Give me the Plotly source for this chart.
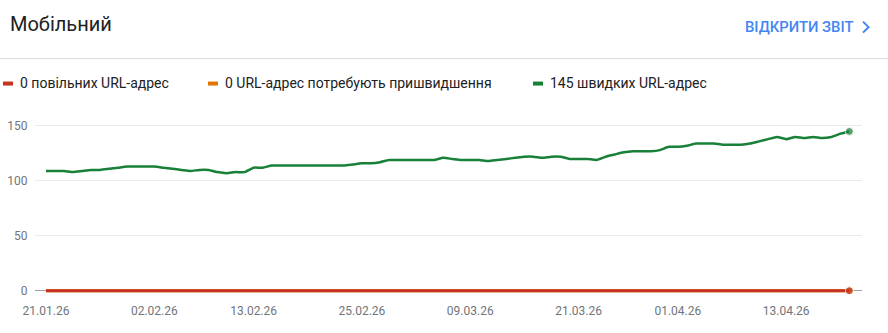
import datetime as dt
import plotly.graph_objects as go

# ---- data ----
start_date = "2026-01-21"
fast_urls = [109, 109, 109, 108, 109, 110, 110, 111, 112, 113,
             113, 113, 113, 112, 111, 110, 109, 110, 110, 108,
             107, 108, 108, 112, 112, 114, 114, 114, 114, 114,
             114, 114, 114, 114, 115, 116, 116, 117, 119, 119,
             119, 119, 119, 119, 121, 120, 119, 119, 119, 118,
             119, 120, 121, 122, 122, 121, 122, 122, 120, 120,
             120, 119, 122, 124, 126, 127, 127, 127, 128, 131,
             131, 132, 134, 134, 134, 133, 133, 133, 134, 136,
             138, 140, 138, 140, 139, 140, 139, 140, 143, 145]
slow_urls = [0] * len(fast_urls)
improve_urls = [0] * len(fast_urls)
tick_dates = ["2026-01-21", "2026-02-02", "2026-02-13", "2026-02-25",
              "2026-03-09", "2026-03-21", "2026-04-01", "2026-04-13"]
y_ticks = [0, 50, 100, 150]

title_text = "Мобільний"
link_text = "ВІДКРИТИ ЗВІТ"
legend_labels = ["повільних URL-адрес", "URL-адрес потребують пришвидшення", "швидких URL-адрес"]

RED = "#c5321f"
ORANGE = "#e37400"
GREEN = "#188038"
BLUE = "#4285f4"

d0 = dt.datetime.fromisoformat(start_date)
dates = [d0 + dt.timedelta(days=i) for i in range(len(fast_urls))]

# plot area geometry (pixels)
W, H = 888, 333
L, R = 35, 862
T, B = 115, 294.3
PW, PH = R - L, B - T


def px(x):
    return (x - L) / PW


def py(y):
    return (B - y) / PH


def end_sizes(n, s):
    return [0] * (n - 1) + [s]


fig = go.Figure()
n = len(fast_urls)
fig.add_trace(go.Scatter(x=dates, y=improve_urls, mode="lines+markers",
                         line=dict(color=ORANGE, width=3),
                         marker=dict(size=end_sizes(n, 8), color=ORANGE),
                         hoverinfo="skip", showlegend=False))
fig.add_trace(go.Scatter(x=dates, y=slow_urls, mode="lines+markers",
                         line=dict(color=RED, width=3),
                         marker=dict(size=end_sizes(n, 8), color=RED),
                         hoverinfo="skip", showlegend=False))
fig.add_trace(go.Scatter(x=dates, y=fast_urls, mode="lines+markers",
                         line=dict(color=GREEN, width=2.5, shape="spline", smoothing=0.5),
                         marker=dict(size=end_sizes(n, 8), color=GREEN),
                         hoverinfo="skip", showlegend=False))

x0 = d0 - dt.timedelta(days=1.22)
x1 = d0 + dt.timedelta(days=90.4)

tick_dt = [dt.datetime.fromisoformat(t) for t in tick_dates]
fig.update_xaxes(type="date", range=[x0, x1], tickvals=tick_dt,
                 ticktext=[t.strftime("%d.%m.%y") for t in tick_dt],
                 showgrid=False, zeroline=False, showline=False, automargin=False,
                 ticks="outside", ticklen=6, tickcolor="rgba(0,0,0,0)",
                 tickfont=dict(family="Roboto", size=12, color="#70757a"))
fig.update_yaxes(range=[-3, 160], tickvals=y_ticks, showgrid=True,
                 gridcolor="#e8eaed", gridwidth=1, automargin=False,
                 zeroline=True, zerolinecolor="#9aa0a6", zerolinewidth=1,
                 showline=False, ticks="outside", ticklen=4,
                 tickcolor="rgba(0,0,0,0)",
                 tickfont=dict(family="Roboto", size=12, color="#70757a"))

annotations = [
    dict(text=title_text, x=px(8), y=py(24), xanchor="left", yanchor="middle",
         font=dict(family="Roboto", size=20, color="#202124")),
    dict(text=link_text, x=px(855), y=py(27), xanchor="right", yanchor="middle",
         font=dict(family="Roboto", size=14.8, color=BLUE, weight=500)),
]
legend_vals = [slow_urls[-1], improve_urls[-1], fast_urls[-1]]
legend_colors = [RED, ORANGE, GREEN]
legend_x = [3, 208, 533]
shapes = [
    dict(type="line", xref="paper", yref="paper", x0=px(0), x1=px(W),
         y0=py(58.5), y1=py(58.5), line=dict(color="#dadce0", width=1)),
    dict(type="path", xref="paper", yref="paper",
         path=f"M {px(863)} {py(21.5)} L {px(868.5)} {py(27)} L {px(863)} {py(32.5)}",
         line=dict(color=BLUE, width=2)),
]
for v, c, lx, lab in zip(legend_vals, legend_colors, legend_x, legend_labels):
    shapes.append(dict(type="line", xref="paper", yref="paper",
                       x0=px(lx), x1=px(lx + 10), y0=py(83.5), y1=py(83.5),
                       line=dict(color=c, width=4)))
    annotations.append(dict(text=f"{v} {lab}", x=px(lx + 15), y=py(83),
                            xanchor="left", yanchor="middle",
                            font=dict(family="Roboto", size=14, color="#202124")))
for a in annotations:
    a.update(xref="paper", yref="paper", showarrow=False)

fig.update_layout(template="none", width=W, height=H,
                  margin=dict(l=L, r=W - R, t=T, b=H - B),
                  plot_bgcolor="white", paper_bgcolor="white",
                  annotations=annotations, shapes=shapes, showlegend=False)

fig.write_html("out.html")
